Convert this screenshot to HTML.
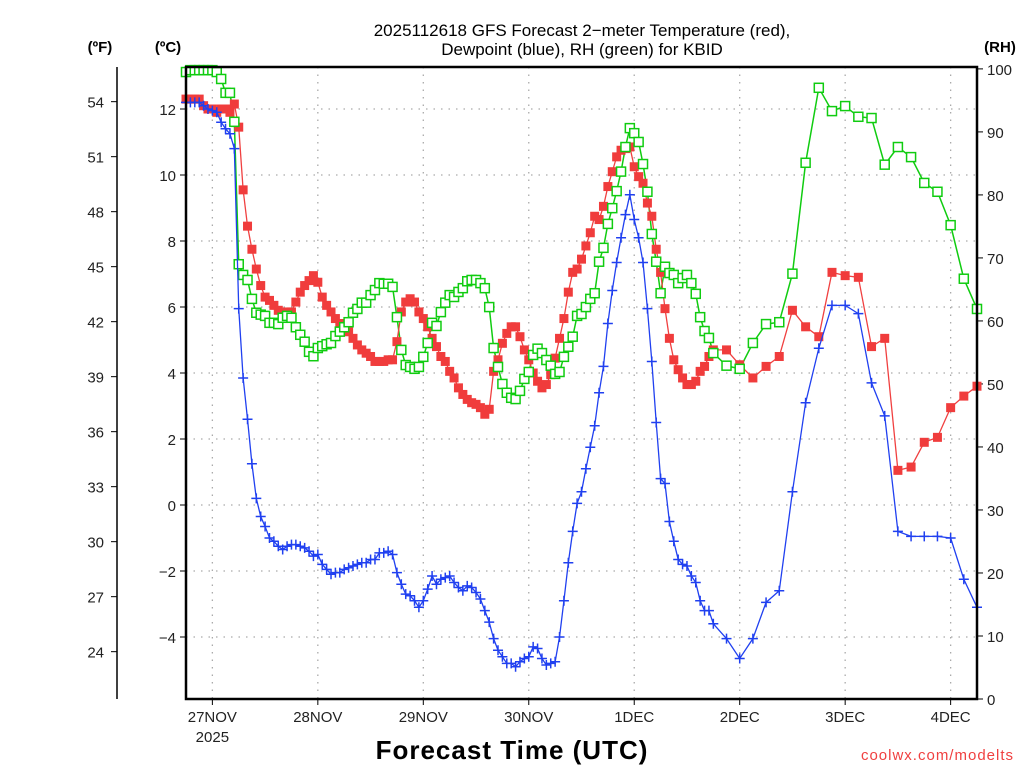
<!DOCTYPE html>
<html><head><meta charset="utf-8"><style>
html,body{margin:0;padding:0;background:#fff;}
svg{display:block;font-family:"Liberation Sans","DejaVu Sans",sans-serif;}
</style></head><body>
<svg id="chart" width="1024" height="768" viewBox="0 0 1024 768" xmlns="http://www.w3.org/2000/svg">
<rect x="0" y="0" width="1024" height="768" fill="#fff"/>
<text x="582" y="36" font-size="17" text-anchor="middle" fill="#000">2025112618 GFS Forecast 2−meter Temperature (red),</text>
<text x="582" y="55" font-size="17" text-anchor="middle" fill="#000">Dewpoint (blue), RH (green) for KBID</text>
<text x="100" y="52" font-size="15" font-weight="bold" text-anchor="middle">(ºF)</text>
<text x="168" y="52" font-size="15" font-weight="bold" text-anchor="middle">(ºC)</text>
<text x="1000" y="52" font-size="15" font-weight="bold" text-anchor="middle">(RH)</text>
<text x="512" y="759" font-size="26" font-weight="bold" text-anchor="middle" letter-spacing="1">Forecast Time (UTC)</text>
<text x="1014" y="760" font-size="15" text-anchor="end" fill="#f04040" letter-spacing="1">coolwx.com/modelts</text>
<g id="grid"></g>
<g id="axes"></g>
<g id="series"></g>
<rect x="186" y="67" width="791" height="632" fill="none" stroke="#000" stroke-width="2.5"/>
</svg>
<script>
const tempHourly = [12.3,12.3,12.3,12.3,12.1,12.0,12.0,11.9,12.0,12.0,11.9,12.15,11.45,9.55,8.45,7.75,7.15,6.65,6.3,6.2,6.05,5.9,5.8,5.85,5.85,6.15,6.45,6.65,6.8,6.95,6.75,6.3,6.05,5.85,5.65,5.5,5.35,5.25,5.05,4.85,4.7,4.6,4.5,4.35,4.35,4.35,4.4,4.4,4.95,5.85,6.15,6.25,6.15,5.85,5.65,5.4,5.05,4.8,4.5,4.35,4.05,3.85,3.55,3.35,3.2,3.1,3.05,2.95,2.75,2.9,4.05,4.4,4.9,5.2,5.4,5.4,5.1,4.7,4.4,4.0,3.75,3.55,3.65,3.95,4.45,5.05,5.65,6.45,7.05,7.15,7.45,7.85,8.25,8.75,8.65,9.05,9.65,10.1,10.55,10.75,10.8,10.85,10.25,9.95,9.75,9.15,8.75,7.75,7.05,5.95,5.05,4.4,4.1,3.85,3.65,3.65,3.75,4.05,4.2,4.5,4.7];
const temp3h = [4.7,4.25,3.85,4.2,4.5,5.9,5.4,5.1,7.05,6.95,6.9,4.8,5.05,1.05,1.15,1.9,2.05,2.95,3.3,3.6];
const dewHourly = [12.2,12.2,12.2,12.2,12.1,12.0,11.95,11.9,11.6,11.4,11.25,10.8,5.95,3.85,2.6,1.25,0.2,-0.35,-0.65,-1.0,-1.1,-1.25,-1.35,-1.25,-1.2,-1.2,-1.25,-1.3,-1.4,-1.55,-1.5,-1.8,-1.95,-2.1,-2.05,-2.05,-1.95,-1.9,-1.85,-1.8,-1.75,-1.75,-1.65,-1.65,-1.45,-1.45,-1.4,-1.5,-2.05,-2.4,-2.7,-2.75,-2.9,-3.1,-2.9,-2.55,-2.15,-2.4,-2.25,-2.2,-2.15,-2.35,-2.5,-2.6,-2.45,-2.5,-2.65,-2.85,-3.2,-3.55,-4.05,-4.4,-4.6,-4.8,-4.8,-4.9,-4.75,-4.65,-4.6,-4.3,-4.35,-4.65,-4.85,-4.8,-4.75,-4.0,-2.9,-1.75,-0.8,0.05,0.4,1.1,1.75,2.4,3.4,4.2,5.5,6.5,7.35,8.1,8.8,9.4,8.65,8.1,7.35,5.95,4.35,2.5,0.8,0.65,-0.5,-1.1,-1.65,-1.8,-1.85,-2.15,-2.35,-2.9,-3.2,-3.2,-3.6];
const dew3h = [-4.05,-4.65,-4.05,-2.95,-2.6,0.4,3.1,4.75,6.05,6.05,5.8,3.7,2.7,-0.8,-0.95,-0.95,-0.95,-1.0,-2.25,-3.1];
const rhHourly = [99.5,99.8,99.8,99.8,99.8,99.8,99.8,99.5,98.4,96.2,96.2,91.6,69.0,67.3,66.5,63.5,61.3,61.0,60.8,59.7,59.7,59.5,60.5,60.8,60.5,59.0,57.8,56.7,55.1,54.4,55.7,56.0,56.3,56.5,57.6,58.3,59.0,59.8,61.3,61.9,62.9,62.9,64.1,64.9,66.0,65.9,65.9,65.4,60.6,55.4,53.0,52.7,52.4,52.7,54.3,56.5,59.7,59.2,61.4,62.9,64.1,63.8,64.6,65.2,66.3,66.5,66.5,66.0,65.2,62.2,55.7,52.7,50.0,48.6,47.8,47.6,48.9,50.8,51.9,54.6,55.6,54.9,53.8,52.9,51.6,51.9,54.3,55.9,57.5,60.8,61.1,62.2,63.5,64.4,69.4,71.6,75.4,77.9,80.6,83.7,87.6,90.6,89.8,88.4,84.9,80.5,73.8,69.4,64.4,68.6,67.6,67.3,66.0,66.8,67.3,66.0,64.3,60.6,58.4,57.3,54.9];
const rh3h = [52.9,52.4,56.5,59.5,59.8,67.5,85.1,97.0,93.3,94.1,92.4,92.2,84.8,87.6,86.0,81.9,80.5,75.2,66.7,61.9];
const dayLabels = ["27NOV","28NOV","29NOV","30NOV","1DEC","2DEC","3DEC","4DEC"];
const celsiusTicks = [12,10,8,6,4,2,0,-2,-4];
const fahrenheitTicks = [54,51,48,45,42,39,36,33,30,27,24];
const rhTicks = [0,10,20,30,40,50,60,70,80,90,100];

const X0=186, X1=977, Y0=67, Y1=699;
const HOURS=180;
const xScale = h => X0 + (X1-X0)*h/HOURS;
const yC = c => 505 - c*33;
const yF = f => yC((f-32)*5/9);
const yRH = r => Y1 - (Y1-Y0)*r/100.3;
const NS="http://www.w3.org/2000/svg";
function mk(tag, attrs, parent){const e=document.createElementNS(NS,tag);for(const k in attrs)e.setAttribute(k,attrs[k]);parent.appendChild(e);return e;}

const times=[];for(let i=0;i<tempHourly.length;i++)times.push(i);
const times3=[];for(let i=0;i<temp3h.length;i++)times3.push(123+3*i);
const allT=times.concat(times3);

const grid=document.getElementById('grid'), axes=document.getElementById('axes'), series=document.getElementById('series');
// gridlines
celsiusTicks.forEach(c=>{const l=mk('line',{x1:X0,x2:X1,y1:yC(c),y2:yC(c),stroke:'#aaa','stroke-width':1.3,'stroke-dasharray':'1.5 6'},grid);

});
dayLabels.forEach((d,i)=>{const x=xScale(6+24*i);
const l=mk('line',{x1:x,x2:x,y1:Y0,y2:Y1,stroke:'#aaa','stroke-width':1.3,'stroke-dasharray':'1.5 6'},grid);


const t=mk('line',{x1:x,x2:x,y1:Y1,y2:Y1+6,stroke:'#000','stroke-width':1},axes);


const tx=mk('text',{x:x,y:722,'font-size':15,'text-anchor':'middle',fill:'#222'},axes);tx.textContent=d;


if(i===0){const y2=mk('text',{x:x,y:742,'font-size':15,'text-anchor':'middle',fill:'#222'},axes);y2.textContent='2025';

}
});
// celsius ticks
celsiusTicks.forEach(c=>{const y=yC(c);
const t=mk('line',{x1:X0-6,x2:X0,y1:y,y2:y,stroke:'#000'},axes);


const tx=mk('text',{x:X0-10,y:y+6,'font-size':15,'text-anchor':'end',fill:'#222'},axes);tx.textContent=c<0?'−'+(-c):String(c);

});
// fahrenheit axis
const fl=mk('line',{x1:117,x2:117,y1:Y0,y2:Y1,stroke:'#000','stroke-width':1.5},axes);


fahrenheitTicks.forEach(f=>{const y=yF(f);
const t=mk('line',{x1:111,x2:117,y1:y,y2:y,stroke:'#000'},axes);


const tx=mk('text',{x:104,y:y+6,'font-size':15,'text-anchor':'end',fill:'#222'},axes);tx.textContent=String(f);

});
// rh axis
rhTicks.forEach(r=>{const y=yRH(r);
const t=mk('line',{x1:X1,x2:X1+6,y1:y,y2:y,stroke:'#000'},axes);


const tx=mk('text',{x:X1+10,y:y+6,'font-size':15,'text-anchor':'start',fill:'#222'},axes);tx.textContent=String(r);

});

function pts(vals,ys){return allT.map((h,i)=>[xScale(h),ys(vals[i])]);}
// RH
const rhP=pts(rhHourly.concat(rh3h),yRH);
const rhLine=mk('polyline',{points:rhP.map(p=>p.join(',')).join(' '),fill:'none',stroke:'#10cc10','stroke-width':1.5},series);


// Temperature
const tP=pts(tempHourly.concat(temp3h),yC);
const tLine=mk('polyline',{points:tP.map(p=>p.join(',')).join(' '),fill:'none',stroke:'#f04040','stroke-width':1.3},series);


tP.forEach(p=>{const r=mk('rect',{x:p[0]-4.5,y:p[1]-4.5,width:9,height:9,fill:'#f03c3c'},series);

});
rhP.forEach(p=>{const r=mk('rect',{x:p[0]-4.5,y:p[1]-4.5,width:9,height:9,fill:'#fff',stroke:'#10cc10','stroke-width':1.5},series);

});
// Dewpoint
const dP=pts(dewHourly.concat(dew3h),yC);
const dLine=mk('polyline',{points:dP.map(p=>p.join(',')).join(' '),fill:'none',stroke:'#2040f0','stroke-width':1.3},series);


dP.forEach(p=>{const g=mk('path',{d:`M${p[0]-5},${p[1]}H${p[0]+5}M${p[0]},${p[1]-5}V${p[1]+5}`,stroke:'#2040f0','stroke-width':1.5,fill:'none'},series);

});
</script>
</body></html>
